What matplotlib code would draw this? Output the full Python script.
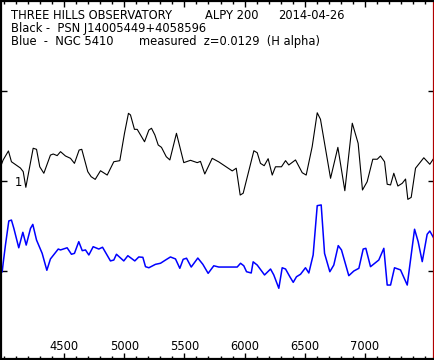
import matplotlib
matplotlib.use("Agg")
import matplotlib.pyplot as plt
from matplotlib.ticker import MultipleLocator, FixedLocator

# ---- data (wavelength in Angstrom, normalised flux) ----
black_wl = [3967, 3989, 4033, 4058, 4133, 4156, 4178, 4239, 4267, 4294, 4328, 4383, 4406,
            4439, 4467, 4508, 4550, 4583, 4622, 4644, 4694, 4722, 4756, 4800, 4856, 4911,
            4961, 5000, 5033, 5050, 5083, 5106, 5167, 5203, 5225, 5253, 5281, 5308, 5348,
            5378, 5433, 5494, 5550, 5606, 5633, 5669, 5731, 5786, 5898, 5931, 5964, 5989,
            6078, 6106, 6133, 6164, 6197, 6231, 6258, 6308, 6342, 6369, 6425, 6481, 6514,
            6564, 6606, 6633, 6717, 6778, 6836, 6898, 6947, 6983, 7022, 7069, 7106, 7133,
            7167, 7189, 7217, 7244, 7278, 7314, 7342, 7361, 7389, 7425, 7494, 7544, 7583]
black_flux = [1.079, 1.117, 1.167, 1.107, 1.072, 1.052, 0.965, 1.182, 1.176, 1.079, 1.043,
              1.144, 1.150, 1.141, 1.163, 1.139, 1.126, 1.098, 1.172, 1.176, 1.052, 1.024,
              1.009, 1.057, 1.033, 1.107, 1.113, 1.265, 1.376, 1.367, 1.287, 1.287, 1.218,
              1.283, 1.293, 1.256, 1.200, 1.187, 1.135, 1.117, 1.265, 1.102, 1.115, 1.102,
              1.109, 1.039, 1.126, 1.106, 1.056, 1.071, 0.922, 0.932, 1.168, 1.157, 1.098,
              1.085, 1.124, 1.033, 1.079, 1.079, 1.113, 1.089, 1.117, 1.046, 1.033, 1.191,
              1.379, 1.343, 1.015, 1.187, 0.946, 1.321, 1.209, 0.950, 0.996, 1.121, 1.121,
              1.139, 1.107, 0.982, 0.978, 1.043, 0.972, 0.987, 1.011, 0.898, 0.909, 1.071,
              1.129, 1.093, 1.132]

blue_wl = [3981, 3989, 4008, 4036, 4058, 4078, 4119, 4153, 4181, 4217, 4236, 4267, 4314,
           4353, 4383, 4448, 4467, 4522, 4558, 4583, 4619, 4648, 4675, 4703, 4739, 4786,
           4817, 4883, 4911, 4933, 4994, 5028, 5086, 5119, 5153, 5175, 5203, 5258, 5300,
           5342, 5383, 5425, 5461, 5489, 5517, 5556, 5611, 5653, 5697, 5744, 5786, 5939,
           5967, 5994, 6017, 6056, 6072, 6106, 6167, 6217, 6244, 6286, 6314, 6342, 6378,
           6406, 6433, 6467, 6508, 6536, 6572, 6606, 6639, 6667, 6711, 6744, 6781, 6808,
           6869, 6911, 6953, 6989, 7011, 7050, 7119, 7161, 7189, 7217, 7250, 7300, 7356,
           7417, 7447, 7481, 7522, 7544, 7586]
blue_flux = [0.496, 0.543, 0.644, 0.778, 0.783, 0.737, 0.629, 0.715, 0.644, 0.737, 0.759,
             0.672, 0.598, 0.504, 0.567, 0.622, 0.617, 0.629, 0.593, 0.598, 0.663, 0.613,
             0.617, 0.589, 0.635, 0.622, 0.632, 0.556, 0.561, 0.593, 0.556, 0.585, 0.556,
             0.578, 0.576, 0.524, 0.518, 0.537, 0.543, 0.561, 0.578, 0.567, 0.515, 0.565,
             0.571, 0.522, 0.572, 0.537, 0.487, 0.529, 0.522, 0.522, 0.543, 0.529, 0.496,
             0.489, 0.551, 0.533, 0.478, 0.511, 0.478, 0.404, 0.518, 0.511, 0.468, 0.437,
             0.468, 0.482, 0.518, 0.489, 0.589, 0.863, 0.867, 0.598, 0.496, 0.533, 0.641,
             0.617, 0.474, 0.500, 0.515, 0.622, 0.626, 0.524, 0.561, 0.626, 0.422, 0.422,
             0.518, 0.506, 0.422, 0.732, 0.663, 0.552, 0.704, 0.722, 0.672]

x_ticks = [4500, 5000, 5500, 6000, 6500, 7000]
x_tick_labels = ["4500", "5000", "5500", "6000", "6500", "7000"]
y_ticks = [0.5, 1.0, 1.5]
y_tick_labels = ["", "1", ""]

title_line1 = ["THREE HILLS OBSERVATORY", "ALPY 200", "2014-04-26"]
title_line2 = ["Black -  PSN J14005449+4058596"]
title_line3 = ["Blue  -  NGC 5410", "measured  z=0.0129  (H alpha)"]

# ---- figure ----
W, H = 435, 360
fig = plt.figure(figsize=(W / 100, H / 100), dpi=100)
fig.patch.set_facecolor("white")
ax = fig.add_axes([1 / W, 1 / H, 433 / W, 358 / H])
ax.set_xlim(3971, 7579)
ax.set_ylim(1 - 178 / 180, 2.0)

ax.plot(black_wl, black_flux, color="black", lw=0.8)
ax.plot(blue_wl, blue_flux, color="#0000ff", lw=1.1)

for s in ["left", "top", "bottom"]:
    ax.spines[s].set_color("black")
    ax.spines[s].set_linewidth(1.6)
ax.spines["right"].set_color("#b00000")
ax.spines["right"].set_linewidth(1.6)

FS = 8.3
ax.xaxis.set_major_locator(FixedLocator(x_ticks))
ax.set_xticklabels(x_tick_labels, fontsize=FS)
ax.xaxis.set_minor_locator(MultipleLocator(100))
ax.yaxis.set_major_locator(FixedLocator(y_ticks))
ax.set_yticklabels(y_tick_labels, fontsize=FS)
ax.tick_params(axis="x", which="major", direction="in", length=4, width=1,
               top=True, bottom=True, pad=-13.5)
ax.tick_params(axis="x", which="minor", direction="in", length=2.2, width=1,
               top=True, bottom=True)
ax.tick_params(axis="y", which="major", direction="in", length=4, width=1,
               left=True, right=True, pad=-10)
for lab in ax.get_yticklabels():
    lab.set_horizontalalignment("left")

def ftext(px, py, s):
    fig.text(px / W, 1 - py / H, s, fontsize=FS, va="baseline", ha="left",
             family="DejaVu Sans")

ftext(11, 19, title_line1[0])
ftext(205, 19, title_line1[1])
ftext(278, 19, title_line1[2])
ftext(11, 32, title_line2[0])
ftext(11, 45, title_line3[0])
ftext(139, 45, title_line3[1])

fig.savefig("out.png", dpi=100, facecolor="white")
